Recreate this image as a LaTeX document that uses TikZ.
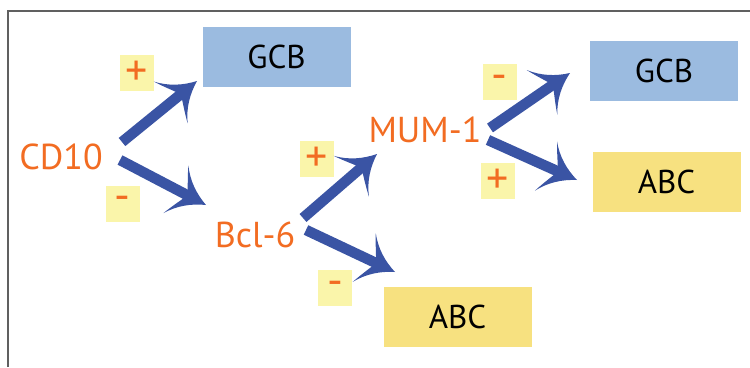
\documentclass[tikz,border=0pt]{standalone}
\usepackage{fontspec}
\setmainfont{PT Sans}
\usetikzlibrary{arrows.meta}

\pgfdeclarearrow{
  name = Curvy,
  parameters = {\the\pgfarrowlength,\the\pgfarrowwidth},
  setup code = {
    \pgfarrowssettipend{0pt}
    \pgfarrowssetlineend{-.5\pgfarrowlength}
    \pgfarrowssetbackend{-\pgfarrowlength}
    \pgfarrowssetvisualbackend{-.62\pgfarrowlength}
    \pgfarrowsupperhullpoint{0pt}{0pt}
    \pgfarrowsupperhullpoint{-\pgfarrowlength}{.5\pgfarrowwidth}
    \pgfarrowssavethe\pgfarrowlength
    \pgfarrowssavethe\pgfarrowwidth
  },
  drawing code = {
    \pgfpathmoveto{\pgfpointorigin}
    \pgfpathcurveto{\pgfpoint{-.4\pgfarrowlength}{.1\pgfarrowwidth}}{\pgfpoint{-.75\pgfarrowlength}{.26\pgfarrowwidth}}{\pgfpoint{-\pgfarrowlength}{.5\pgfarrowwidth}}
    \pgfpathcurveto{\pgfpoint{-.85\pgfarrowlength}{.28\pgfarrowwidth}}{\pgfpoint{-.68\pgfarrowlength}{.1\pgfarrowwidth}}{\pgfpoint{-.62\pgfarrowlength}{0pt}}
    \pgfpathcurveto{\pgfpoint{-.68\pgfarrowlength}{-.1\pgfarrowwidth}}{\pgfpoint{-.85\pgfarrowlength}{-.28\pgfarrowwidth}}{\pgfpoint{-\pgfarrowlength}{-.5\pgfarrowwidth}}
    \pgfpathcurveto{\pgfpoint{-.75\pgfarrowlength}{-.26\pgfarrowwidth}}{\pgfpoint{-.4\pgfarrowlength}{-.1\pgfarrowwidth}}{\pgfpointorigin}
    \pgfpathclose
    \pgfusepathqfill
  },
  defaults = {length=34pt, width=54pt}
}

\definecolor{boxblue}{RGB}{155,187,224}
\definecolor{boxyellow}{RGB}{247,225,128}
\definecolor{signyellow}{RGB}{250,245,170}
\definecolor{labelorange}{RGB}{242,108,34}
\definecolor{arrowblue}{RGB}{58,84,164}
\definecolor{framegray}{RGB}{96,96,96}

\begin{document}
\begin{tikzpicture}[x=1pt,y=-1pt,
  bigbox/.style={minimum width=148pt, minimum height=60pt, inner sep=0pt,
    font=\fontsize{33}{34}\selectfont, text=black},
  gcbbox/.style={bigbox, fill=boxblue},
  abcbox/.style={bigbox, fill=boxyellow},
  marker/.style={inner sep=0pt, text=labelorange,
    font=\fontsize{36}{38}\selectfont, text height=25pt, text depth=0pt},
  signbox/.style={fill=signyellow, minimum width=34pt, minimum height=36pt,
    inner sep=0pt, text=labelorange, font=\fontsize{44}{44}\selectfont},
  bigarrow/.style={color=arrowblue, line width=10.5pt, -{Curvy}}
]
\useasboundingbox (0,0) rectangle (750,367);
\draw[framegray, line width=1.6pt] (8,367) -- (8,11) -- (750,11);

% boxes
\node[gcbbox] (gcbA) at (276.5,57) {GCB};
\node[gcbbox] (gcbB) at (664,71) {GCB};
\node[abcbox] (abcB) at (666.5,181.5) {ABC};
\node[abcbox] (abcA) at (457.5,317) {ABC};

% markers
\node[marker] (cd10) at (61,157) {CD10};
\node[marker] (bcl6) at (255,235) {Bcl-6};
\node[marker] (mum1) at (425,130) {MUM-1};

% signs
\node[signbox] (s1) at (136.5,73) {+};
\node[signbox] (s2) at (122.5,203.5) {-};
\node[signbox] (s3) at (317,159) {+};
\node[signbox] (s4) at (335,288) {-};
\node[signbox] (s5) at (499.5,82) {-};
\node[signbox] (s6) at (498,181) {+};

% arrow endpoints
\coordinate (a1s) at (122,142); \coordinate (a1e) at (197,81);
\coordinate (a2s) at (120,160); \coordinate (a2e) at (206,205);
\coordinate (a3s) at (303,218); \coordinate (a3e) at (377,154);
\coordinate (a4s) at (306,230); \coordinate (a4e) at (395,272);
\coordinate (a5s) at (490,128); \coordinate (a5e) at (570,73);
\coordinate (a6s) at (488,140); \coordinate (a6e) at (577,180);

\draw[bigarrow] (a1s) -- (a1e);
\draw[bigarrow] (a2s) -- (a2e);
\draw[bigarrow] (a3s) -- (a3e);
\draw[bigarrow] (a4s) -- (a4e);
\draw[bigarrow] (a5s) -- (a5e);
\draw[bigarrow] (a6s) -- (a6e);
\end{tikzpicture}
\end{document}
